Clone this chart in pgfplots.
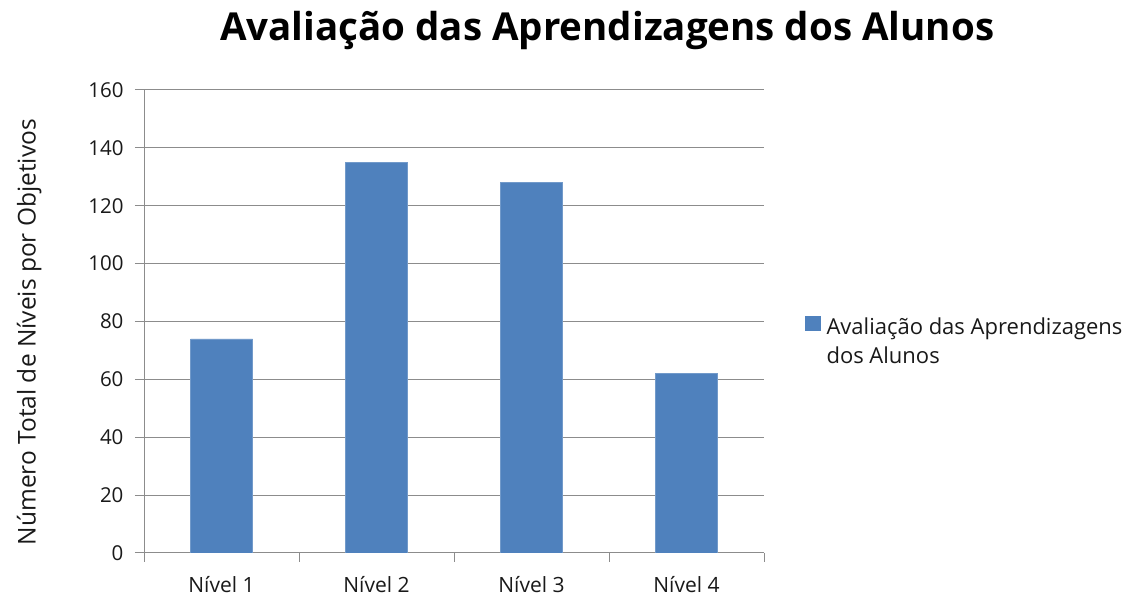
\documentclass[border=0pt]{standalone}
\usepackage{pgfplots}
\pgfplotsset{compat=1.18}
\usepackage{fontspec}
\setmainfont{Open Sans}
\definecolor{barblue}{HTML}{4F81BD}
\definecolor{gridgray}{HTML}{8C8C8C}
\begin{document}
\begin{tikzpicture}[x=1pt,y=1pt]
\useasboundingbox (0,0) rectangle (1126,596);
\begin{axis}[
  at={(144pt,43pt)}, anchor=south west,
  scale only axis, width=620pt, height=463pt,
  xmin=-0.5, xmax=3.5, ymin=0, ymax=160,
  ytick={0,20,...,160},
  xtick={0,1,2,3},
  xticklabels={Nível 1,Nível 2,Nível 3,Nível 4},
  minor xtick={-0.5,0.5,1.5,2.5,3.5},
  major x tick style={draw=none},
  minor x tick style={gridgray, line width=1pt},
  y tick style={gridgray, line width=1pt},
  tick align=outside,
  minor tick length=9pt, major tick length=9pt,
  ymajorgrids, grid style={gridgray, line width=1pt},
  axis x line*=bottom, axis y line*=left,
  axis line style={gridgray, line width=1pt, -},
  /pgf/number format/assume math mode=true,
  yticklabel style={font=\fontsize{20.5}{24}\selectfont, text=black!90, xshift=-8pt},
  xticklabel style={font=\fontsize{21}{24}\selectfont, text=black!90, anchor=base, yshift=-31pt},
  ylabel={Número Total de Níveis por Objetivos},
  ylabel style={font=\fontsize{24.5}{28}\selectfont, text=black!90, at={(axis description cs:-0.185,0.477)}, anchor=center},
  bar width=62pt,
  legend style={at={(axis description cs:1.066,0.521)}, anchor=north west, draw=none, fill=none,
    font=\fontsize{22}{29}\selectfont, text=black!90, legend cell align=left, inner sep=0pt,
    /tikz/every odd column/.append style={column sep=4pt}},
  legend image code/.code={\fill[barblue] (0pt,-5pt) rectangle (15pt,9pt);},
  title={\bfseries Avaliação das Aprendizagens dos Alunos},
  title style={font=\fontsize{38.5}{44}\selectfont, at={(axis description cs:0.747,1.093)}, anchor=base},
]
\addplot[ybar, fill=barblue, draw=barblue!80!white] coordinates {(0,74) (1,135) (2,128) (3,62)};
\addlegendentry{\begin{tabular}[t]{@{}l@{}}Avaliação das Aprendizagens\\dos Alunos\end{tabular}}
\end{axis}
\end{tikzpicture}
\end{document}
